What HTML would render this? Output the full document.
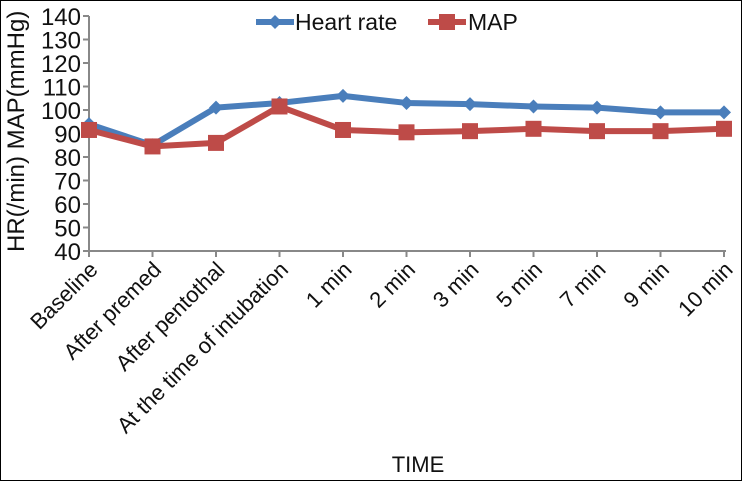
<!DOCTYPE html>
<html><head><meta charset="utf-8"><style>
body{margin:0;background:#fff}
svg{display:block;font-family:"Liberation Sans",Arial,sans-serif}
</style></head><body>
<svg id="c" width="742" height="481" viewBox="0 0 742 481">
<rect x="0.5" y="0.5" width="741" height="480" fill="#fff" stroke="#000"/>
<g id="g"></g>
</svg>
<script>
const categories=["Baseline","After premed","After pentothal","At the time of intubation","1 min","2 min","3 min","5 min","7 min","9 min","10 min"];
const heartRate=[94,85,101,103,106,103,102.5,101.5,101,99,99];
const mapValues=[91.5,84.5,86,101.5,91.5,90.5,91,92,91,91,92];
const yTicks=[40,50,60,70,80,90,100,110,120,130,140];
const NS="http://www.w3.org/2000/svg";
const g=document.getElementById('g');
const x=i=>89+i*63.5;
const y=v=>251-(v-40)*2.35;
function el(t,a,txt){const e=document.createElementNS(NS,t);for(const k in a)e.setAttribute(k,a[k]);if(txt!==undefined)e.textContent=txt;g.appendChild(e);return e;}
let ax=el('line',{x1:89,y1:y(140),x2:89,y2:251,stroke:'#888','stroke-width':2});


let bx=el('line',{x1:89,y1:251,x2:x(10)+2,y2:251,stroke:'#888','stroke-width':2});


yTicks.forEach(v=>{
 let t=el('line',{x1:83,y1:y(v),x2:89,y2:y(v),stroke:'#888','stroke-width':2});
 
 
 let l=el('text',{x:81,y:y(v)+9,'text-anchor':'end','font-size':24,fill:'#111'},v);
 
 
});
categories.forEach((c,i)=>{
 let t=el('line',{x1:x(i),y1:251,x2:x(i),y2:257,stroke:'#888','stroke-width':2});
 
 
 let l=el('text',{x:x(i)+10,y:271,'text-anchor':'end','font-size':22,fill:'#111',transform:`rotate(-45 ${x(i)+10} 271)`},c);
 
 
});
function series(vals,color,name,sq){
 let p=el('polyline',{points:vals.map((v,i)=>x(i)+','+y(v)).join(' '),fill:'none',stroke:color,'stroke-width':6,'stroke-linejoin':'round'});
 
 
 vals.forEach((v,i)=>{
  let m=sq?el('rect',{x:x(i)-8,y:y(v)-8,width:16,height:16,fill:color}):el('path',{d:`M${x(i)-7} ${y(v)}L${x(i)} ${y(v)-7}L${x(i)+7} ${y(v)}L${x(i)} ${y(v)+7}Z`,fill:color});
  
  
 });
}
series(heartRate,'#4a7ebb','heart-rate',false);
series(mapValues,'#be4b48','map',true);
let t1=el('text',{x:24,y:252,'font-size':24,fill:'#111',transform:'rotate(-90 24 252)'},'HR(/min)  MAP(mmHg)');


let t2=el('text',{x:418,y:472,'text-anchor':'middle','font-size':22,fill:'#111'},'TIME');


let l1=el('line',{x1:256,y1:22,x2:294,y2:22,stroke:'#4a7ebb','stroke-width':6});


let d1=el('path',{d:'M268 22L275 15L282 22L275 29Z',fill:'#4a7ebb'});


let lt1=el('text',{x:295,y:30,'font-size':23,fill:'#111'},'Heart rate');


let l2=el('line',{x1:428,y1:22,x2:466,y2:22,stroke:'#be4b48','stroke-width':6});


let d2=el('rect',{x:439,y:14,width:16,height:16,fill:'#be4b48'});


let lt2=el('text',{x:468,y:30,'font-size':23,fill:'#111'},'MAP');


</script>
</body></html>
